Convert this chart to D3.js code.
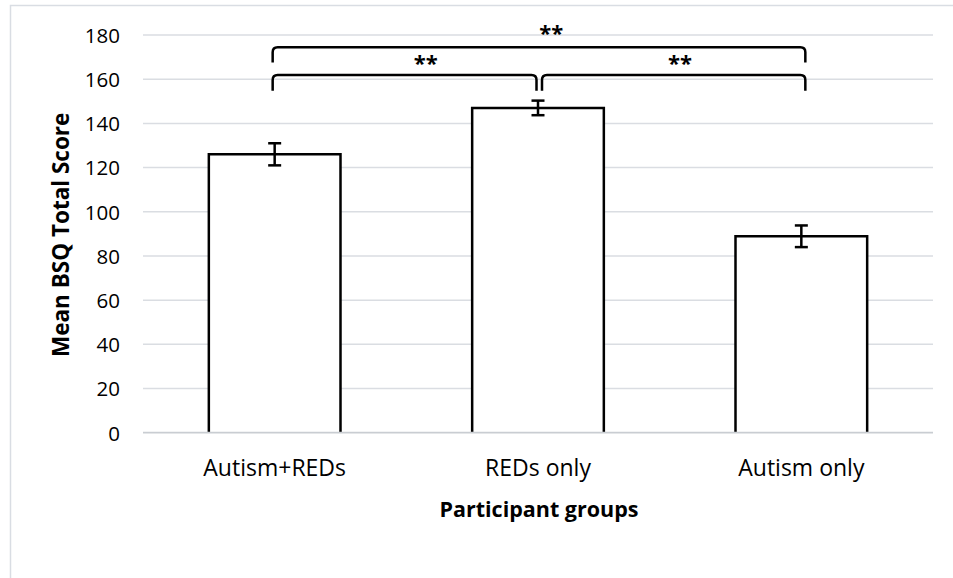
<!DOCTYPE html>
<html>
<head>
<meta charset="utf-8">
<script src="https://cdn.jsdelivr.net/npm/d3@7"></script>
<style>
  html, body { margin: 0; padding: 0; background: #fff; }
  svg { display: block; }
  text { font-family: "Open Sans", Lato, sans-serif; fill: #000; }
</style>
</head>
<body>
<svg id="chart" width="953" height="578"></svg>
<script>
// Mean BSQ total score per participant group, with error bars
const groups = ["Autism+REDs", "REDs only", "Autism only"];
const means = [126, 147, 88.9];
const errors = [5, 3.3, 4.9];
const yTicks = [0, 20, 40, 60, 80, 100, 120, 140, 160, 180];

// Significance brackets: groups spanned, bar height, leg bottom, label position along bracket
const bracketFrom = ["Autism+REDs", "REDs only", "Autism+REDs"];
const bracketTo = ["REDs only", "Autism only", "Autism only"];
const bracketTop = [161.9, 161.9, 174.4];
const bracketLeg = [154.8, 154.8, 167.6];
const bracketLabels = ["**", "**", "**"];
const bracketLabelAt = [0.58, 0.524, 0.523];
const bracketLabelValue = [169.7, 169.7, 183.2];
// small horizontal nudges (px) for the legs so adjacent brackets don't touch
const legNudgeL = [-2, 4, -2];
const legNudgeR = [-1.5, 4, 4];

const svg = d3.select("#chart");
const W = 953, H = 578;
const plot = { left: 143, right: 933, top: 35, bottom: 432.7 };

// outer chart frame
svg.append("rect")
  .attr("x", 10.5).attr("y", 5.5)
  .attr("width", W + 20).attr("height", H + 20)
  .attr("fill", "none").attr("stroke", "#d9dde3").attr("stroke-width", 1.5);

const x = d3.scaleBand().domain(groups)
  .range([plot.left, plot.right]).paddingInner(0.5).paddingOuter(0.25);
const y = d3.scaleLinear().domain([0, 180]).range([plot.bottom, plot.top]);

// gridlines
svg.append("g").selectAll("line").data(yTicks.filter(d => d > 0)).join("line")
  .attr("x1", plot.left).attr("x2", plot.right)
  .attr("y1", d => y(d)).attr("y2", d => y(d))
  .attr("stroke", "#dadde2").attr("stroke-width", 1.5);

// y axis labels
const yAxis = d3.axisLeft(y).tickValues(yTicks).tickSize(0).tickPadding(0);
const gy = svg.append("g").attr("transform", `translate(${plot.left - 23},0)`).call(yAxis);
gy.select(".domain").remove();
gy.selectAll("text").attr("font-size", 20.5).attr("font-family", "'Open Sans', Lato, sans-serif")
  .attr("fill", "#000").attr("dy", "0.36em");

// bars (open at the bottom; baseline drawn over)
const bars = groups.map((g, i) => ({ g, v: means[i], e: errors[i] }));
svg.append("g").selectAll("path").data(bars).join("path")
  .attr("d", d => {
    const x0 = x(d.g), x1 = x(d.g) + x.bandwidth();
    return `M${x0},${y(0)} L${x0},${y(d.v)} L${x1},${y(d.v)} L${x1},${y(0)}`;
  })
  .attr("fill", "#fff").attr("stroke", "#000").attr("stroke-width", 2.5);

// baseline
svg.append("line")
  .attr("x1", plot.left).attr("x2", plot.right)
  .attr("y1", y(0)).attr("y2", y(0))
  .attr("stroke", "#c9cdd2").attr("stroke-width", 1.8);

// error bars
const eb = svg.append("g").attr("stroke", "#000").attr("stroke-width", 2.5);
bars.forEach(d => {
  const cx = x(d.g) + x.bandwidth() / 2;
  eb.append("line").attr("x1", cx).attr("x2", cx).attr("y1", y(d.v + d.e)).attr("y2", y(d.v - d.e));
  eb.append("line").attr("x1", cx - 6.5).attr("x2", cx + 6.5).attr("y1", y(d.v + d.e)).attr("y2", y(d.v + d.e));
  eb.append("line").attr("x1", cx - 6.5).attr("x2", cx + 6.5).attr("y1", y(d.v - d.e)).attr("y2", y(d.v - d.e));
});

// x axis category labels
const xAxis = d3.axisBottom(x).tickSize(0).tickPadding(0);
const gx = svg.append("g").attr("transform", `translate(0,${y(0)})`).call(xAxis);
gx.select(".domain").remove();
gx.selectAll("text").attr("font-size", 23).attr("font-family", "'Open Sans', Lato, sans-serif")
  .attr("fill", "#000").attr("dy", null).attr("y", 43.5);

// significance brackets
const br = svg.append("g");
const r = 5;
bracketFrom.forEach((f, i) => {
  const xa = x(f) + x.bandwidth() / 2 + legNudgeL[i];
  const xb = x(bracketTo[i]) + x.bandwidth() / 2 + legNudgeR[i];
  const yt = y(bracketTop[i]), yl = y(bracketLeg[i]);
  br.append("path")
    .attr("d", `M${xa},${yl} L${xa},${yt + r} Q${xa},${yt} ${xa + r},${yt} L${xb - r},${yt} Q${xb},${yt} ${xb},${yt + r} L${xb},${yl}`)
    .attr("fill", "none").attr("stroke", "#000").attr("stroke-width", 2.5);
  br.append("text")
    .attr("x", xa + (xb - xa) * bracketLabelAt[i])
    .attr("y", y(bracketLabelValue[i]) + 13)
    .attr("text-anchor", "middle")
    .attr("font-size", 22).attr("font-weight", 700)
    .text(bracketLabels[i]);
});

// axis titles
svg.append("text")
  .attr("transform", `translate(69,${(plot.top + plot.bottom) / 2 + 1}) rotate(-90)`)
  .attr("text-anchor", "middle")
  .attr("font-size", 22.5).attr("font-weight", 700)
  .text("Mean BSQ Total Score");

svg.append("text")
  .attr("x", 539)
  .attr("y", 517)
  .attr("text-anchor", "middle")
  .attr("font-size", 21.5).attr("font-weight", 700)
  .text("Participant groups");
</script>
</body>
</html>
